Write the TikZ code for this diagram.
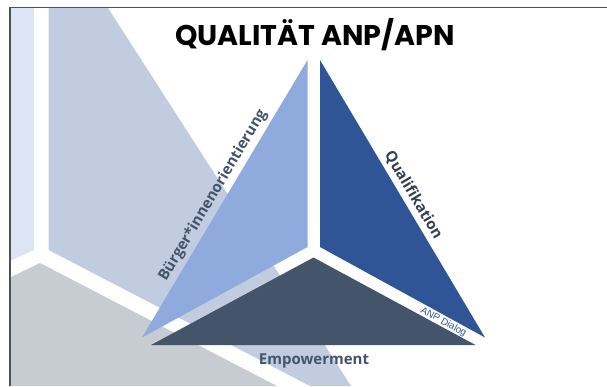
\documentclass[tikz,border=0pt]{standalone}
\usepackage{fontspec}
\setmainfont{Open Sans}
\newfontfamily\titlefont{Poppins}
\newfontfamily\smallfont{Liberation Sans}
\definecolor{cBurg}{HTML}{8FAADC}
\definecolor{cQual}{HTML}{2F5597}
\definecolor{cEmp}{HTML}{44546A}
\definecolor{bgA}{HTML}{DDE5F4}
\definecolor{bgB}{HTML}{C1CCE0}
\definecolor{bgC}{HTML}{C7CCD2}
\definecolor{txtA}{HTML}{44546A}
\definecolor{txtB}{HTML}{333F50}
\definecolor{frameC}{HTML}{505050}
\begin{document}
\begin{tikzpicture}[x=1pt,y=-1pt,
  frameline/.style={draw=frameC,line width=1.2pt},
  sidelabel/.style={sloped,above=4pt,inner sep=0pt,font=\bfseries\fontsize{15}{18}\selectfont},
  titlestyle/.style={anchor=base,inner sep=0pt,font=\titlefont\bfseries\fontsize{28.5}{32}\selectfont,text=black},
  bottomlabel/.style={anchor=base,inner sep=0pt,font=\bfseries\fontsize{15}{18}\selectfont,text=txtA},
  smalllabel/.style={inner sep=0pt,font=\smallfont\fontsize{9.8}{11}\selectfont,text=cQual}]
\useasboundingbox (0,0) rectangle (607,386);
\fill[white] (0,0) rectangle (607,386);
% faded background copy
\fill[bgA] (11,8) -- (34,8) -- (34,250) -- (11,260.5) -- cycle;
\fill[bgB] (48.7,8) -- (108,8) -- (351,386) -- (310,386) -- (48.7,250) -- cycle;
\fill[bgC] (11,277) -- (40,263) -- (277,386) -- (11,386) -- cycle;
% frame
\draw[frameline] (10,386) -- (10,7.5) -- (607,7.5);
% main triangles
\coordinate (bT) at (307.5,60);
\coordinate (bC) at (307.5,247);
\coordinate (bL) at (142,337.5);
\coordinate (qT) at (320,60);
\coordinate (qC) at (320,247);
\coordinate (qR) at (485,337.5);
\coordinate (eT) at (313.5,257.5);
\coordinate (eL) at (151,345);
\coordinate (eR) at (475.5,345);
\fill[cBurg] (bT) -- (bC) -- (bL) -- cycle;
\fill[cQual] (qT) -- (qC) -- (qR) -- cycle;
\fill[cEmp] (eT) -- (eL) -- (eR) -- cycle;
% labels
\node[titlestyle] (title) at (315,45) {QUALITÄT ANP/APN};
\path (bL) -- (bT) node[sidelabel,pos=0.49,text=txtA] (burg) {Bürger*innenorientierung};
\path (qT) -- (qR) node[sidelabel,pos=0.508,text=txtB] (qual) {Qualifikation};
\node[bottomlabel] (emp) at (314,364) {Empowerment};
\node[smalllabel,rotate=-28.7] (dialog) at (443.5,322) {ANP Dialog};
\end{tikzpicture}
\end{document}
